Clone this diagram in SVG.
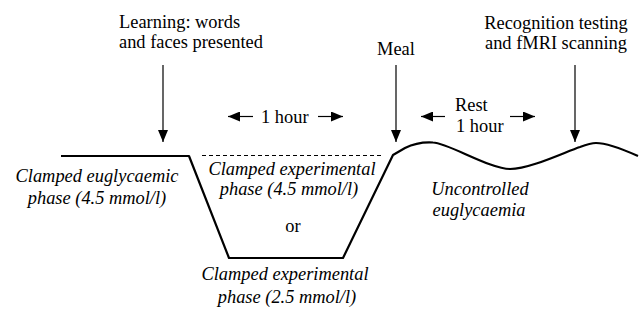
<svg xmlns="http://www.w3.org/2000/svg" width="640" height="336" viewBox="0 0 640 336">
<style>
text{font-family:'Liberation Serif','Times New Roman',Times,serif;font-size:18.4px;fill:#000}
.it{font-style:italic}
.c{text-anchor:middle}
.arr{stroke:#000;stroke-width:1.2;fill:none}
.curve{stroke:#000;stroke-width:2.2;fill:none;stroke-linejoin:round}
.dash{stroke:#000;stroke-width:1;stroke-dasharray:4,3;fill:none}
</style>
<defs>
<marker id="ah" markerWidth="13" markerHeight="10" refX="12" refY="5" orient="auto" markerUnits="userSpaceOnUse">
<path d="M0,0 L12,5 L0,10 Z" fill="#000"/>
</marker>
</defs>
<rect width="640" height="336" fill="#fff"/>
<g id="connectors">
<line class="arr" x1="163" y1="65" x2="163" y2="142" marker-end="url(#ah)"/>
<line class="arr" x1="396" y1="65" x2="396" y2="142" marker-end="url(#ah)"/>
<line class="arr" x1="575" y1="65" x2="575" y2="142" marker-end="url(#ah)"/>
<line class="arr" x1="253" y1="116.5" x2="228" y2="116.5" marker-end="url(#ah)"/>
<line class="arr" x1="318" y1="116.5" x2="343" y2="116.5" marker-end="url(#ah)"/>
<line class="arr" x1="445" y1="116.5" x2="421" y2="116.5" marker-end="url(#ah)"/>
<line class="arr" x1="510" y1="116.5" x2="535" y2="116.5" marker-end="url(#ah)"/>
</g>
<g id="glucose-trace">
<path class="curve" d="M61,156 L189,156 L229,258 L343,258 L393,155 L405,148 C415,143 425,142 433,142.5 C448,143 490,169 510,169 C530,169 565,152 580,147 C588,144 592,143 596,143 C605,143 620,148 638,156"/>
<line class="dash" x1="202" y1="155.5" x2="383" y2="155.5"/>
</g>
<g id="learning">
<text x="119" y="28">Learning: words</text>
<text x="119" y="48">and faces presented</text>
</g>
<g id="meal"><text class="c" x="396" y="55">Meal</text></g>
<g id="recognition">
<text class="c" x="556" y="29">Recognition testing</text>
<text class="c" x="556" y="49">and fMRI scanning</text>
</g>
<g id="hour1"><text x="261" y="123">1 hour</text></g>
<g id="rest">
<text x="455" y="111">Rest</text>
<text x="456" y="131.5">1 hour</text>
</g>
<g id="euglycaemic">
<text class="it c" x="97" y="182">Clamped euglycaemic</text>
<text class="it c" x="97" y="204">phase (4.5 mmol/l)</text>
</g>
<g id="exp45">
<text class="it c" x="292" y="175">Clamped experimental</text>
<text class="it c" x="289" y="195">phase (4.5 mmol/l)</text>
</g>
<g id="or"><text class="c" x="293" y="232">or</text></g>
<g id="exp25">
<text class="it c" x="285" y="280">Clamped experimental</text>
<text class="it c" x="287" y="303">phase (2.5 mmol/l)</text>
</g>
<g id="uncontrolled">
<text class="it c" x="480" y="195">Uncontrolled</text>
<text class="it c" x="479" y="216">euglycaemia</text>
</g>
</svg>
